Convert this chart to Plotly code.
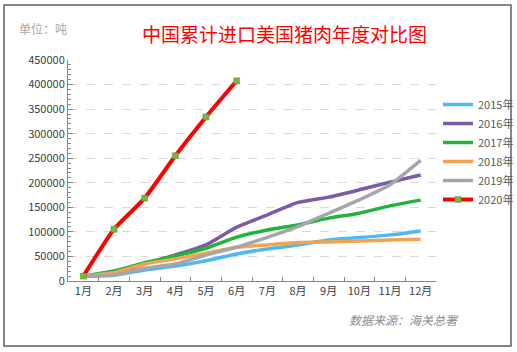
import plotly.graph_objects as go

months = ["1月", "2月", "3月", "4月", "5月", "6月", "7月", "8月", "9月", "10月", "11月", "12月"]
y2015 = [10000, 11600, 22500, 30600, 41400, 55100, 65300, 73500, 83700, 88400, 93900, 102000]
y2016 = [10000, 14000, 35000, 53000, 73500, 109600, 134700, 160000, 170800, 185700, 201400, 215700]
y2017 = [10000, 20400, 37400, 51000, 66700, 89200, 104000, 114000, 128000, 138000, 153000, 164700]
y2018 = [10000, 17000, 34700, 45000, 56500, 68800, 73500, 78200, 79600, 81600, 83700, 85000]
y2019 = [10000, 12000, 26000, 34700, 53000, 68800, 89000, 110800, 138000, 165300, 196000, 245500]
y2020 = [10000, 105500, 168800, 255000, 334000, 407600]

series = [
    ("2015年", y2015, "#4db8f2"),
    ("2016年", y2016, "#7b5aa6"),
    ("2017年", y2017, "#1fb53a"),
    ("2018年", y2018, "#f6a14f"),
    ("2019年", y2019, "#a6a6a6"),
]

fig = go.Figure()
for name, vals, col in series:
    fig.add_trace(go.Scatter(x=months[:len(vals)], y=vals, name=name, mode="lines",
                             line=dict(color=col, width=3.5, shape="spline", smoothing=0.5)))
fig.add_trace(go.Scatter(x=months[:len(y2020)], y=y2020, name="2020年", mode="lines+markers",
                         line=dict(color="#ff0000", width=4, shape="spline", smoothing=0.5),
                         marker=dict(symbol="square", size=6, color="#7cb342",
                                     line=dict(color="#5a8f2a", width=0.5))))

L, R, T, B = 68, 436, 60, 281
W, H = 517, 352

def px(x):
    return (x - L) / (R - L)

def py(y):
    return (B - y) / (B - T)

fig.update_layout(
    width=W, height=H,
    margin=dict(l=L, r=W - R, t=T, b=H - B, pad=0, autoexpand=False),
    paper_bgcolor="white", plot_bgcolor="white",
    font=dict(family="Noto Sans CJK SC, sans-serif", color="#404040", size=11),
    showlegend=True,
    legend=dict(xref="container", yref="container", x=438 / W, y=1 - 90 / H,
                xanchor="left", yanchor="top",
                font=dict(size=11, color="#595959"), tracegroupgap=0,
                itemwidth=30, bgcolor="rgba(0,0,0,0)"),
    xaxis=dict(type="category", categoryorder="array", categoryarray=months,
               range=[-0.5, 11.5], showgrid=False, showline=True, linecolor="#868686",
               linewidth=1, ticks="inside", tickson="boundaries", ticklen=4, tickangle=0,
               automargin=False,
               tickcolor="#868686", tickfont=dict(size=11, color="#404040")),
    yaxis=dict(range=[0, 450000], dtick=50000, showgrid=True, gridcolor="#d9d9d9",
               griddash="dash", gridwidth=1, showline=True, linecolor="#868686",
               linewidth=1, ticks="inside", ticklen=5, tickcolor="#868686", automargin=False,
               tickformat="d", zeroline=False, tickfont=dict(size=11, color="#404040"),
               minor=dict(dtick=10000, ticks="inside", ticklen=3, tickcolor="#868686",
                          showgrid=False)),
)

fig.add_shape(type="rect", xref="paper", yref="paper",
              x0=px(4), x1=px(511), y0=py(346), y1=py(5),
              line=dict(color="#5f5f5f", width=1.5), fillcolor="rgba(0,0,0,0)", layer="below")

fig.add_annotation(text="中国累计进口美国猪肉年度对比图", xref="paper", yref="paper",
                   x=px(284), y=py(33), showarrow=False, xanchor="center", yanchor="middle",
                   font=dict(size=19, color="#ff0000", family="Noto Sans CJK SC"))
fig.add_annotation(text="单位：吨", xref="paper", yref="paper",
                   x=px(17), y=py(28), showarrow=False, xanchor="left", yanchor="middle",
                   font=dict(size=12, color="#a6a6a6", family="Noto Sans CJK SC"))
fig.add_annotation(text="<i>数据来源：海关总署</i>", xref="paper", yref="paper",
                   x=px(461), y=py(319), showarrow=False, xanchor="right", yanchor="middle",
                   font=dict(size=12, color="#8c8c8c", family="Noto Sans CJK SC"))

fig.write_html("out.html")
